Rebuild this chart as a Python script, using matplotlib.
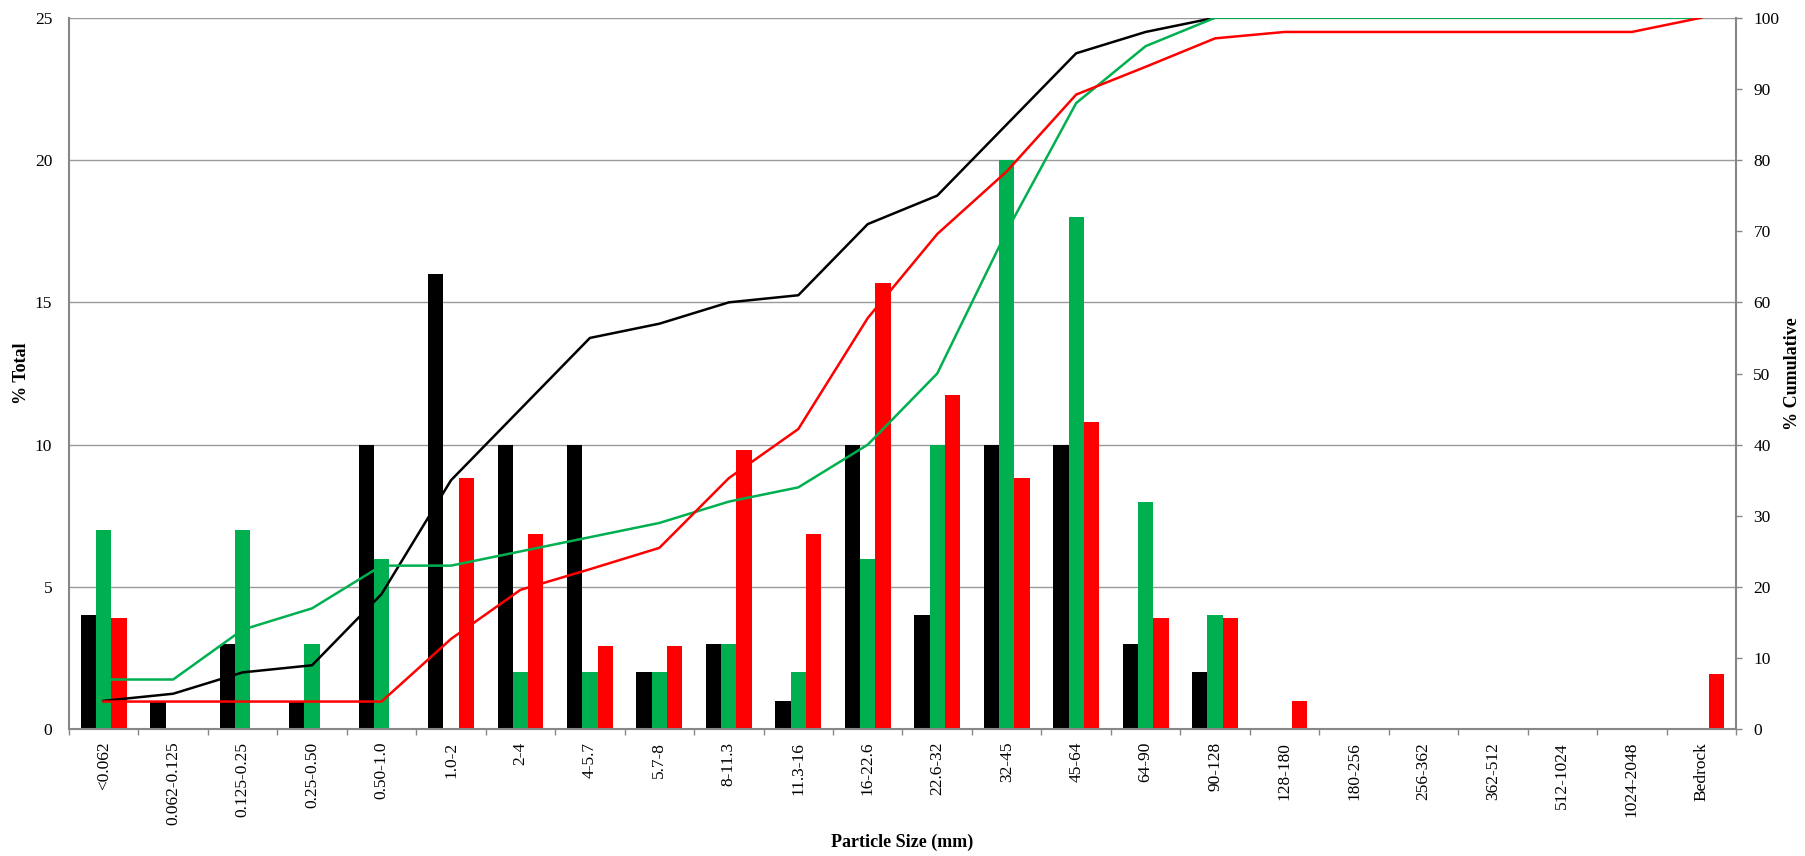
import numpy as np
import matplotlib
matplotlib.use("Agg")
import matplotlib.pyplot as plt

plt.rcParams['font.family'] = ['Liberation Serif', 'DejaVu Serif']

sizes = ['<0.062', '0.062-0.125', '0.125-0.25', '0.25-0.50', '0.50-1.0', '1.0-2',
         '2-4', '4-5.7', '5.7-8', '8-11.3', '11.3-16', '16-22.6', '22.6-32',
         '32-45', '45-64', '64-90', '90-128', '128-180', '180-256', '256-362',
         '362-512', '512-1024', '1024-2048', 'Bedrock']

# % total per size class
black_pct = [4, 1, 3, 1, 10, 16, 10, 10, 2, 3, 1, 10, 4, 10, 10, 3, 2, 0, 0, 0, 0, 0, 0, 0]
green_pct = [7, 0, 7, 3, 6, 0, 2, 2, 2, 3, 2, 6, 10, 20, 18, 8, 4, 0, 0, 0, 0, 0, 0, 0]
red_pct = [3.92, 0, 0, 0, 0, 8.82, 6.86, 2.94, 2.94, 9.80, 6.86, 15.69, 11.76,
           8.82, 10.78, 3.92, 3.92, 0.98, 0, 0, 0, 0, 0, 1.96]

# % cumulative
black_cum = [4, 5, 8, 9, 19, 35, 45, 55, 57, 60, 61, 71, 75, 85, 95, 98, 100,
             100, 100, 100, 100, 100, 100, 100]
green_cum = [7, 7, 14, 17, 23, 23, 25, 27, 29, 32, 34, 40, 50, 70, 88, 96, 100,
             100, 100, 100, 100, 100, 100, 100]
red_cum = [3.9, 3.9, 3.9, 3.9, 3.9, 12.7, 19.6, 22.5, 25.5, 35.3, 42.2, 57.8, 69.6,
           78.4, 89.2, 93.1, 97.1, 98.0, 98.0, 98.0, 98.0, 98.0, 98.0, 100]

BLACK = '#000000'
GREEN = '#00B050'
RED = '#FF0000'
GRAY = '#878787'

x = np.arange(len(sizes))
w = 0.22

fig = plt.figure(figsize=(18.05, 8.56), dpi=100)
ax1 = fig.add_axes([0.0382, 0.148, 0.9236, 0.8313])

ax1.bar(x - w, black_pct, w, color=BLACK)
ax1.bar(x, green_pct, w, color=GREEN)
ax1.bar(x + w, red_pct, w, color=RED)

ax1.set_xlim(-0.5, len(sizes) - 0.5)
ax1.set_ylim(0, 25)
ax1.set_yticks(np.arange(0, 26, 5))
ax1.set_axisbelow(True)
ax1.yaxis.grid(True, color='#9a9a9a', linewidth=1.0)

# ticks at class boundaries, labels at class centres
ax1.set_xticks(np.arange(-0.5, len(sizes), 1.0))
ax1.set_xticklabels([])
ax1.set_xticks(x, minor=True)
ax1.set_xticklabels(sizes, minor=True, rotation=90, fontsize=12.5)
ax1.tick_params(axis='x', which='major', length=4, width=1, color=GRAY, direction='out')
ax1.tick_params(axis='x', which='minor', length=0, pad=9)
ax1.tick_params(axis='y', length=0, pad=12, labelsize=12.5)

for s in ['top', 'right']:
    ax1.spines[s].set_visible(False)
for s in ['left', 'bottom']:
    ax1.spines[s].set_color(GRAY)
    ax1.spines[s].set_linewidth(1.5)

ax1.set_ylabel('% Total', fontsize=13, fontweight='bold')
ax1.yaxis.set_label_coords(-0.0234, 0.5)
ax1.set_xlabel('Particle Size (mm)', fontsize=13, fontweight='bold')
ax1.xaxis.set_label_coords(0.5, -0.147)

ax2 = ax1.twinx()
ax2.plot(x, black_cum, color=BLACK, linewidth=1.8)
ax2.plot(x, green_cum, color=GREEN, linewidth=1.8)
ax2.plot(x, red_cum, color=RED, linewidth=1.8)
ax2.set_ylim(0, 100)
ax2.set_yticks(np.arange(0, 101, 10))
ax2.tick_params(axis='y', length=4.5, width=1, color=GRAY, pad=8, labelsize=12.5)
for s in ['top', 'left', 'bottom']:
    ax2.spines[s].set_visible(False)
ax2.spines['right'].set_color(GRAY)
ax2.spines['right'].set_linewidth(1.5)
ax2.set_ylabel('% Cumulative', fontsize=13, fontweight='bold')
ax2.yaxis.set_label_coords(1.0288, 0.5)

fig.savefig('out.png', dpi=100)
